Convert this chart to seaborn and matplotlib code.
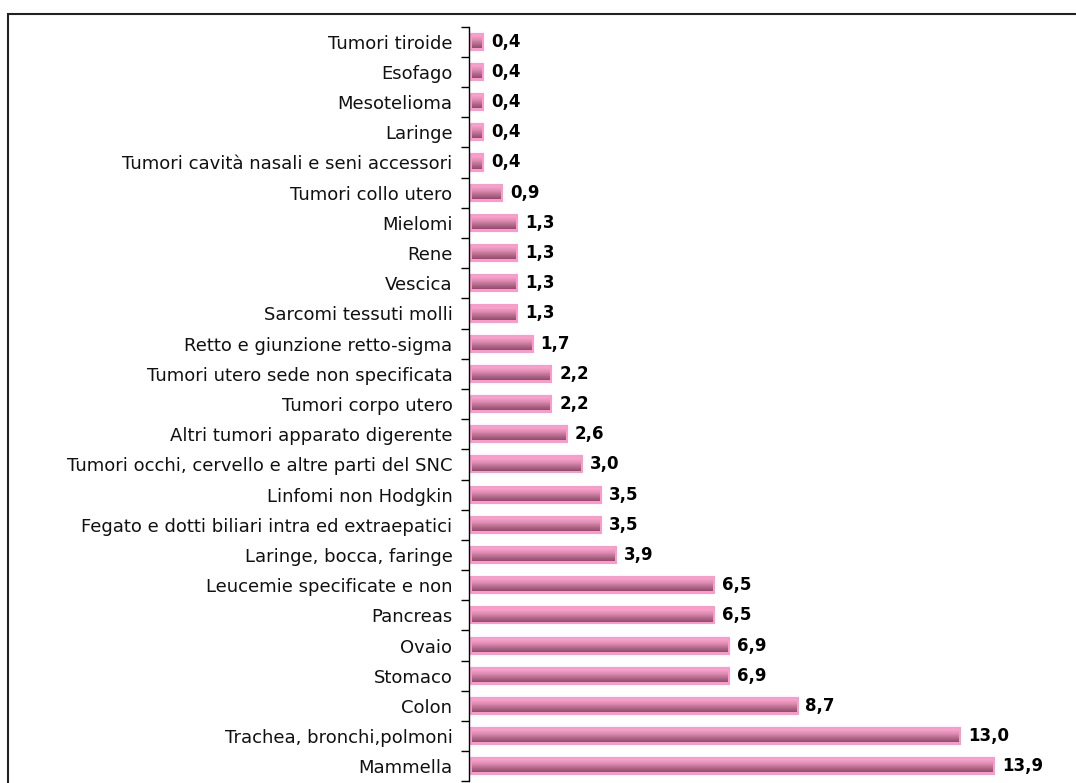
import numpy as np
import pandas as pd
import matplotlib
matplotlib.use("Agg")
import matplotlib.pyplot as plt
from matplotlib.patches import Rectangle
import seaborn as sns

categories = [
    "Tumori tiroide", "Esofago", "Mesotelioma", "Laringe",
    "Tumori cavità nasali e seni accessori", "Tumori collo utero",
    "Mielomi", "Rene", "Vescica", "Sarcomi tessuti molli",
    "Retto e giunzione retto-sigma", "Tumori utero sede non specificata",
    "Tumori corpo utero", "Altri tumori apparato digerente",
    "Tumori occhi, cervello e altre parti del SNC", "Linfomi non Hodgkin",
    "Fegato e dotti biliari intra ed extraepatici", "Laringe, bocca, faringe",
    "Leucemie specificate e non", "Pancreas", "Ovaio", "Stomaco", "Colon",
    "Trachea, bronchi,polmoni", "Mammella",
]
values = [0.4, 0.4, 0.4, 0.4, 0.4, 0.9, 1.3, 1.3, 1.3, 1.3, 1.7, 2.2, 2.2,
          2.6, 3.0, 3.5, 3.5, 3.9, 6.5, 6.5, 6.9, 6.9, 8.7, 13.0, 13.9]

df = pd.DataFrame({"categoria": categories, "valore": values})

sns.set_theme(style="white")
plt.rcParams["font.family"] = ["DejaVu Sans"]

fig = plt.figure(figsize=(10.76, 7.83), dpi=100)
ax = fig.add_axes([0.436, 0.002, 0.563, 0.964])

pink = "#FF99CC"
sns.barplot(data=df, x="valore", y="categoria", orient="h", color=pink,
            width=0.6, edgecolor=pink, linewidth=0, saturation=1, ax=ax)

# vertical shading inside each bar: light pink on top, mauve at the bottom
grad = np.linspace(0, 1, 64).reshape(-1, 1)
cmap = matplotlib.colors.LinearSegmentedColormap.from_list(
    "shade", ["#F9A6CE", "#E08EB4", "#B56C8D", "#8E4E6B"])
for p in ax.patches:
    x0, y0 = p.get_x(), p.get_y()
    w, h = p.get_width(), p.get_height()
    padx = 0.07
    pady = h * 0.16
    ix0, ix1 = x0 + padx, x0 + w - padx
    iy0, iy1 = y0 + pady, y0 + h - pady
    # y axis is inverted: first grad row goes to the top of the bar
    ax.imshow(grad, cmap=cmap, aspect="auto", interpolation="bilinear",
              extent=(ix0, ix1, iy1, iy0), origin="upper", zorder=3)

for i, v in enumerate(values):
    ax.text(v + 0.18, i, f"{v:.1f}".replace(".", ","), va="center",
            ha="left", fontsize=12, fontweight="bold", color="black", zorder=4)

ax.set_xlim(0, 16)
ax.set_ylim(len(categories) - 0.5, -0.5)
ax.set_xlabel("")
ax.set_ylabel("")
ax.set_xticks([])
for s in ["top", "right", "bottom"]:
    ax.spines[s].set_visible(False)
ax.spines["left"].set_color("black")
ax.spines["left"].set_linewidth(1.0)

ax.tick_params(axis="y", which="major", left=False, length=0, labelsize=13,
               labelcolor="#111111", pad=12)
ax.set_yticks(np.arange(-0.5, len(categories), 1), minor=True)
ax.tick_params(axis="y", which="minor", left=True, length=6, width=1.0,
               color="black", direction="out")

# outer frame of the chart area
fig.patches.append(Rectangle((8 / 1076, -0.01), 1.0, 1 - 14 / 783 + 0.01,
                             transform=fig.transFigure, fill=False,
                             edgecolor="#222222", linewidth=1.5))

fig.savefig("out.png", dpi=100)
